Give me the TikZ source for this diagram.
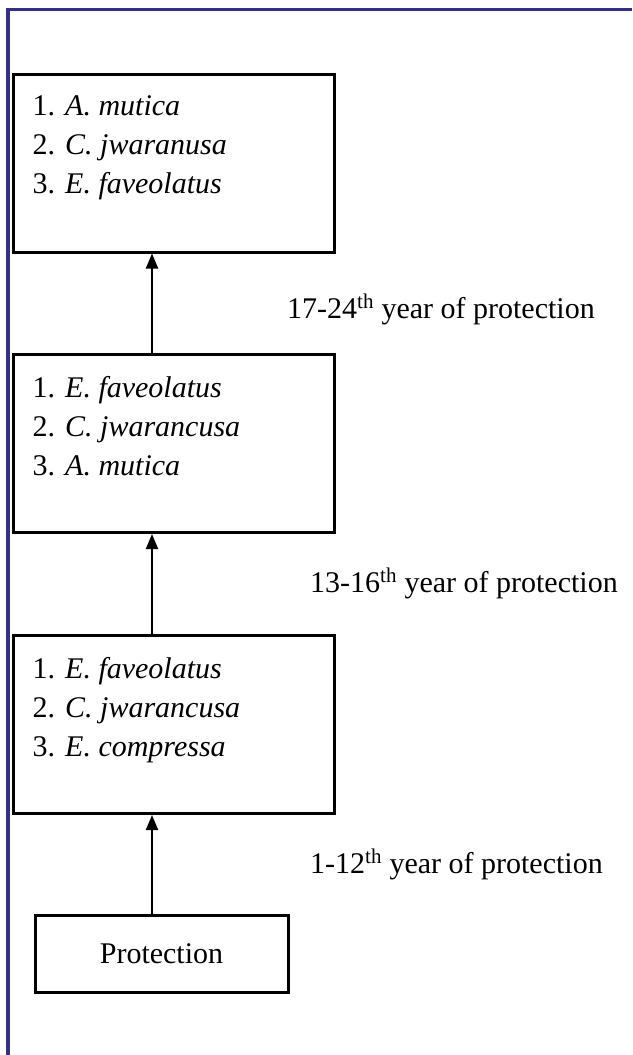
\documentclass[tikz,border=0pt]{standalone}
\usepackage{fontspec}
\setmainfont{Liberation Serif}
\usetikzlibrary{arrows.meta}
\definecolor{framecol}{RGB}{50,48,135}

\begin{document}
\begin{tikzpicture}[x=1pt,y=-1pt,
  spbox/.style={draw,line width=3pt,minimum width=321pt,minimum height=178pt,inner sep=0pt},
  sptext/.style={anchor=north west,align=left,inner sep=0pt,font=\fontsize{30}{39}\selectfont},
  yearlbl/.style={anchor=base west,inner sep=0pt,font=\fontsize{30}{36}\selectfont},
  up/.style={line width=2pt,-{Triangle[length=15pt,width=12pt]}}]
\useasboundingbox (0,0) rectangle (632,1055);
\fill[white] (0,0) rectangle (632,1055);
\draw[line width=3.5pt,framecol] (8,1055) -- (8,9.5) -- (632,9.5);

% stages of succession, latest on top
\node[spbox] (s1) at (173.5,163) {};
\node[spbox] (s2) at (173.5,443.5) {};
\node[spbox] (s3) at (173.5,724.5) {};
\node[draw,line width=3pt,minimum width=253pt,minimum height=77pt,
      font=\fontsize{30}{36}\selectfont] (prot) at (161.5,953.5) {Protection};

\node[sptext] (t1) at ([shift={(21,23)}]s1.north west)
  {1. \textit{A. mutica}\\2. \textit{C. jwaranusa}\\3. \textit{E. faveolatus}};
\node[sptext] (t2) at ([shift={(21,23)}]s2.north west)
  {1. \textit{E. faveolatus}\\2. \textit{C. jwarancusa}\\3. \textit{A. mutica}};
\node[sptext] (t3) at ([shift={(21,23)}]s3.north west)
  {1. \textit{E. faveolatus}\\2. \textit{C. jwarancusa}\\3. \textit{E. compressa}};

\coordinate (ax) at (152,0);
\draw[up] (ax |- prot.north) -- (ax |- s3.south);
\draw[up] (ax |- s3.north) -- (ax |- s2.south);
\draw[up] (ax |- s2.north) -- (ax |- s1.south);

\node[yearlbl] (y1) at (287,318) {17-24\textsuperscript{th} year of protection};
\node[yearlbl] (y2) at (310,592) {13-16\textsuperscript{th} year of protection};
\node[yearlbl] (y3) at (310,873) {1-12\textsuperscript{th} year of protection};
\end{tikzpicture}
\end{document}
